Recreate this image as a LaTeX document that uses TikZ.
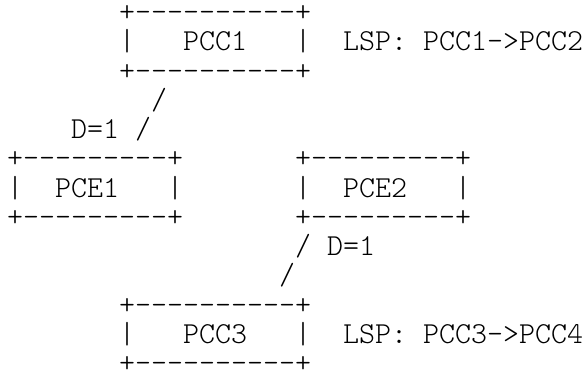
\documentclass[tikz,border=0pt]{standalone}
\usepackage{fontspec}
\setmonofont{Latin Modern Mono Light}[WordSpace={1,0,0},HyphenChar=None]
\begin{document}
% Character grid: one column = 16pt, one text line = 29.25pt.
% (col,row) puts the left edge of a character cell on the baseline of that row.
\begin{tikzpicture}[x=16pt,y=-29.25pt,
  ch/.style={anchor=base west,inner sep=0pt,outer sep=0pt,
    font=\ttfamily\fontsize{30.48}{30.48}\selectfont}]
\useasboundingbox (-7pt,21.6pt) rectangle (577pt,-350.4pt);
% PCC1 with its LSP
\node[ch] (pcc1t) at (7,0) {+----------+};
\node[ch] (pcc1l) at (7,1) {|};
\node[ch] (pcc1)  at (11,1) {PCC1};
\node[ch] (pcc1r) at (18,1) {|};
\node[ch] (pcc1b) at (7,2) {+----------+};
\node[ch] (lsp1k) at (21,1) {LSP:};
\node[ch] (lsp1)  at (26,1) {PCC1->PCC2};
% link PCC1 -- PCE1
\node[ch] (s1) at (9,3) {/};
\node[ch] (d1) at (4,4) {D=1};
\node[ch] (s2) at (8,4) {/};
% PCE1
\node[ch] (pce1t) at (0,5) {+---------+};
\node[ch] (pce1l) at (0,6) {|};
\node[ch] (pce1)  at (3,6) {PCE1};
\node[ch] (pce1r) at (10,6) {|};
\node[ch] (pce1b) at (0,7) {+---------+};
% PCE2
\node[ch] (pce2t) at (18,5) {+---------+};
\node[ch] (pce2l) at (18,6) {|};
\node[ch] (pce2)  at (21,6) {PCE2};
\node[ch] (pce2r) at (28,6) {|};
\node[ch] (pce2b) at (18,7) {+---------+};
% link PCE2 -- PCC3
\node[ch] (s3) at (18,8) {/};
\node[ch] (d2) at (20,8) {D=1};
\node[ch] (s4) at (17,9) {/};
% PCC3 with its LSP
\node[ch] (pcc3t) at (7,10) {+----------+};
\node[ch] (pcc3l) at (7,11) {|};
\node[ch] (pcc3)  at (11,11) {PCC3};
\node[ch] (pcc3r) at (18,11) {|};
\node[ch] (pcc3b) at (7,12) {+----------+};
\node[ch] (lsp3k) at (21,11) {LSP:};
\node[ch] (lsp3)  at (26,11) {PCC3->PCC4};
\end{tikzpicture}
\end{document}
